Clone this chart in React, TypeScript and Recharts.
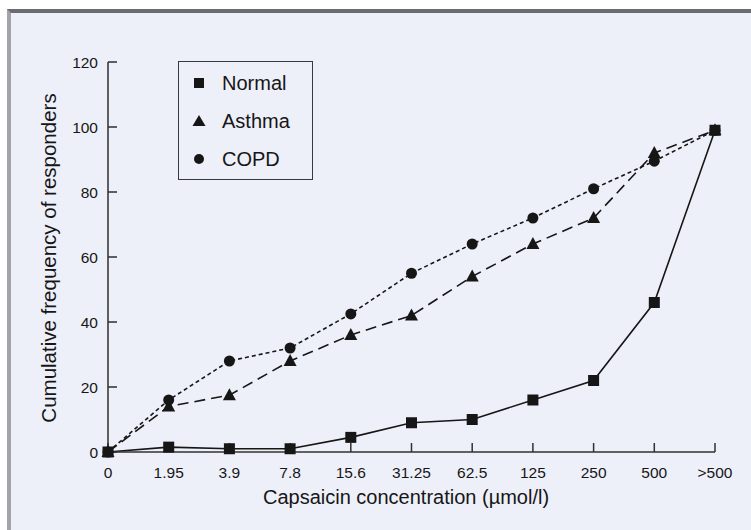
import { LineChart, Line, XAxis, YAxis } from 'recharts';

const categories = ['0', '1.95', '3.9', '7.8', '15.6', '31.25', '62.5', '125', '250', '500', '>500'];
const normal = [0, 1.5, 1, 1, 4.5, 9, 10, 16, 22, 46, 99];
const asthma = [0, 14, 17.5, 28, 36, 42, 54, 64, 72, 92, 99];
const copd = [0, 16, 28, 32, 42.5, 55, 64, 72, 81, 89.5, 99];
const yTicks = [0, 20, 40, 60, 80, 100, 120];

const data = categories.map((c, i) => ({
  conc: c,
  normal: normal[i],
  asthma: asthma[i],
  copd: copd[i],
}));

const INK = '#161616';
const FONT = '"Liberation Sans", Arial, Helvetica, sans-serif';

const Square = ({ cx, cy }: any) =>
  cx == null ? null : <rect x={cx - 5.5} y={cy - 5.5} width={11} height={11} fill={INK} />;

const Triangle = ({ cx, cy }: any) =>
  cx == null ? null : (
    <polygon points={`${cx},${cy - 7} ${cx - 6.5},${cy + 5} ${cx + 6.5},${cy + 5}`} fill={INK} />
  );

const Circle = ({ cx, cy }: any) =>
  cx == null ? null : <circle cx={cx} cy={cy} r={5.5} fill={INK} />;

// axis tick text, sized explicitly
const XTick = ({ x, y, payload }: any) => (
  <text x={x} y={y} dy="0.71em" textAnchor="middle" fill={INK} fontSize={15.5} fontFamily={FONT}>
    {payload.value}
  </text>
);

const YTick = ({ x, y, payload }: any) => (
  <text x={x} y={y} dy="0.36em" textAnchor="end" fill={INK} fontSize={15.5} fontFamily={FONT}>
    {payload.value}
  </text>
);

// legend sits in a plain box over the plot, as in the scan
function LegendBox() {
  const items = [
    { name: 'Normal', icon: <rect x={2} y={2} width={10} height={10} fill={INK} /> },
    { name: 'Asthma', icon: <polygon points="7,1 0.5,12 13.5,12" fill={INK} /> },
    { name: 'COPD', icon: <circle cx={7} cy={7} r={5} fill={INK} /> },
  ];
  return (
    <div
      style={{
        position: 'absolute',
        left: 178,
        top: 61,
        width: 135,
        height: 119,
        boxSizing: 'border-box',
        border: '1.5px solid #3a3a3a',
        paddingTop: 2,
        fontFamily: FONT,
        fontSize: 20,
        color: INK,
      }}
    >
      {items.map(it => (
        <div key={it.name} style={{ display: 'flex', alignItems: 'center', height: 38 }}>
          <svg width={14} height={14} style={{ marginLeft: 13, marginRight: 16 }}>
            {it.icon}
          </svg>
          <span>{it.name}</span>
        </div>
      ))}
    </div>
  );
}

export default function App() {
  return (
    <div style={{ position: 'absolute', left: 0, top: 0, width: 751, height: 530, background: '#ffffff' }}>
      <div
        style={{
          position: 'absolute',
          left: 7,
          top: 9,
          right: 0,
          bottom: 0,
          background: '#eef0f9',
          borderTop: '4px solid #6c6c70',
          borderLeft: '4px solid #a2a2aa',
        }}
      />
      <div style={{ position: 'absolute', left: 0, top: 0 }}>
        <LineChart
          width={751}
          height={530}
          data={data}
          margin={{ top: 62, right: 36, bottom: 48, left: 0 }}
          style={{ fontFamily: FONT }}
        >
          <XAxis
            dataKey="conc"
            scale="point"
            padding={{ left: 0, right: 0 }}
            height={30}
            stroke="#2e332e"
            strokeWidth={1.5}
            tickSize={-9}
            tickMargin={24}
            tick={<XTick />}
            interval={0}
            label={{
              content: () => (
                <text x={406} y={504} textAnchor="middle" fill={INK} fontSize={20} fontFamily={FONT}>
                  Capsaicin concentration (µmol/l)
                </text>
              ),
            }}
          />
          <YAxis
            domain={[0, 120]}
            ticks={yTicks}
            width={108}
            stroke="#2e2e2e"
            strokeWidth={1.5}
            tickSize={-9}
            tickMargin={19}
            tick={<YTick />}
            label={{
              content: () => (
                <text
                  transform="translate(56,258) rotate(-90)"
                  textAnchor="middle"
                  fill={INK}
                  fontSize={20.5}
                  fontFamily={FONT}
                >
                  Cumulative frequency of responders
                </text>
              ),
            }}
          />
          <Line
            type="linear"
            dataKey="copd"
            name="COPD"
            stroke={INK}
            strokeWidth={1.6}
            strokeDasharray="4 3"
            dot={<Circle />}
            activeDot={false}
            isAnimationActive={false}
          />
          <Line
            type="linear"
            dataKey="asthma"
            name="Asthma"
            stroke={INK}
            strokeWidth={1.6}
            strokeDasharray="11 6"
            dot={<Triangle />}
            activeDot={false}
            isAnimationActive={false}
          />
          <Line
            type="linear"
            dataKey="normal"
            name="Normal"
            stroke={INK}
            strokeWidth={1.6}
            dot={<Square />}
            activeDot={false}
            isAnimationActive={false}
          />
        </LineChart>
      </div>
      <LegendBox />
    </div>
  );
}
